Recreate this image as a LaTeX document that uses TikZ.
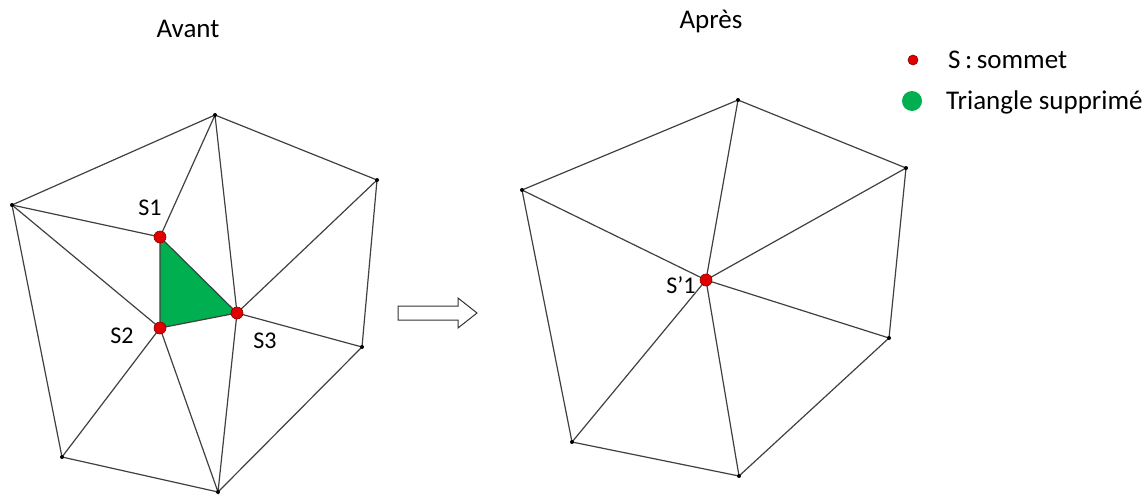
\documentclass[tikz,border=0pt]{standalone}
\usepackage{fontspec}
\setmainfont{Carlito}
\definecolor{meshgreen}{HTML}{00B050}
\definecolor{vred}{HTML}{E00000}
\definecolor{vredd}{HTML}{8B0000}
\begin{document}
\begin{tikzpicture}[x=1pt,y=-1pt,
  edge/.style={draw=black!75,line width=1.2pt},
  outer/.style={circle,fill=black,inner sep=0pt,minimum size=4pt},
  sv/.style={circle,fill=vred,draw=vredd,line width=0.6pt,inner sep=0pt,minimum size=12pt},
  lbl/.style={font=\fontsize{24}{26}\selectfont,inner sep=0pt},
  big/.style={font=\fontsize{27}{29}\selectfont,inner sep=0pt},
  ]
\useasboundingbox (0,0) rectangle (1144,498);
% left mesh
\coordinate (a1) at (215,115);
\coordinate (a2) at (377,180);
\coordinate (a3) at (362,347);
\coordinate (a4) at (218,492);
\coordinate (a5) at (62,457);
\coordinate (a6) at (12,205);
\coordinate (s1) at (160,237);
\coordinate (s2) at (160,328);
\coordinate (s3) at (237,313);
\fill[meshgreen] (s1) -- (s2) -- (s3) -- cycle;
\draw[edge] (a1) -- (a2) -- (a3) -- (a4) -- (a5) -- (a6) -- cycle;
\draw[edge] (a6) -- (s1) -- (a1) -- (s3) -- (a2);
\draw[edge] (a3) -- (s3) -- (a4) -- (s2) -- (a5);
\draw[edge] (a6) -- (s2);
\draw[edge] (s1) -- (s2) -- (s3) -- cycle;
\foreach \p in {a1,a2,a3,a4,a5,a6} \node[outer] at (\p) {};
\node[sv] (S1) at (s1) {};
\node[sv] (S2) at (s2) {};
\node[sv] (S3) at (s3) {};
\node[lbl] (l1) at (150,208) {S1};
\node[lbl] (l2) at (122,336) {S2};
\node[lbl] (l3) at (265,341) {S3};
% right mesh
\coordinate (b1) at (738,100);
\coordinate (b2) at (906,168);
\coordinate (b3) at (889,338);
\coordinate (b4) at (739,476);
\coordinate (b5) at (572,442);
\coordinate (b6) at (522,190);
\coordinate (c) at (706,280);
\draw[edge] (b1) -- (b2) -- (b3) -- (b4) -- (b5) -- (b6) -- cycle;
\foreach \p in {b1,b2,b3,b4,b5,b6} {\draw[edge] (c) -- (\p); \node[outer] at (\p) {};}
\node[sv] (C) at (c) {};
\node[lbl] (lc) at (681,285) {S’1};
% arrow
\draw[black!80,line width=1pt,fill=white] (398,306) -- (458,306) -- (458,298) -- (477,313) -- (458,328) -- (458,320) -- (398,320) -- cycle;
% titles
\node[big] (t1) at (188,29) {Avant};
\node[big] (t2) at (711,21) {Après};
% legend
\node[sv,minimum size=10pt] (d1) at (913,60) {};
\node[big,anchor=west] (k1) at (948,60) {S\,:\,sommet};
\node[circle,fill=meshgreen,inner sep=0pt,minimum size=20pt] (d2) at (912,101) {};
\node[big,anchor=west] (k2) at (946,102) {Triangle supprimé};
\end{tikzpicture}
\end{document}
